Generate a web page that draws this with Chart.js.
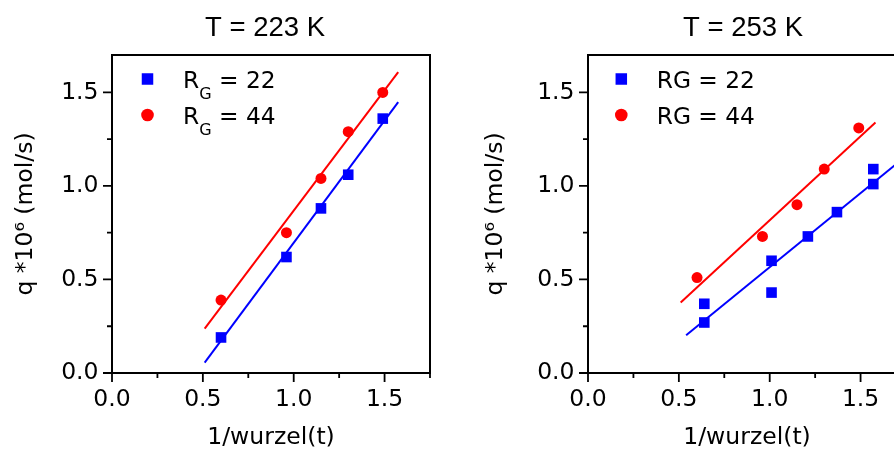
<!DOCTYPE html>
<html>
<head>
<meta charset="utf-8">
<script src="https://cdn.jsdelivr.net/npm/chart.js@4.4.1/dist/chart.umd.min.js"></script>
<style>
  html, body { margin: 0; padding: 0; overflow: hidden; background: #fff; }
  body { width: 894px; height: 452px; position: relative; }
  canvas { position: absolute; top: 0; }
  #c223 { left: 0; }
  #c253 { left: 460px; }
</style>
</head>
<body>
<canvas id="c223" width="530" height="452"></canvas>
<canvas id="c253" width="566" height="452"></canvas>
<script>
// Achsen
var xTickValues = [0, 0.5, 1.0, 1.5];
var xTickLabels = ["0.0", "0.5", "1.0", "1.5"];
var yTickValues = [0, 0.5, 1.0, 1.5];
var yTickLabels = ["0.0", "0.5", "1.0", "1.5"];
var xMinorTicks = [0.25, 0.75, 1.25, 1.75];
var yMinorTicks = [0.25, 0.75, 1.25];

// T = 223 K
var x223 = [0.60, 0.96, 1.15, 1.30, 1.49];
var q223_22 = [0.19, 0.62, 0.88, 1.06, 1.36];
var q223_44 = [0.39, 0.75, 1.04, 1.29, 1.50];
var fitX223 = [0.51, 1.575];
var fit223_22 = [0.055, 1.448];
var fit223_44 = [0.237, 1.608];
var labels223 = ["R_G = 22", "R_G = 44"];

// T = 253 K
var x253_22 = [0.64, 0.64, 1.01, 1.01, 1.21, 1.37, 1.57, 1.57];
var q253_22 = [0.37, 0.27, 0.60, 0.43, 0.73, 0.86, 1.09, 1.01];
var x253_44 = [0.60, 0.96, 1.15, 1.30, 1.49];
var q253_44 = [0.51, 0.73, 0.90, 1.09, 1.31];
var fitX253_22 = [0.54, 1.70];
var fit253_22 = [0.202, 1.120];
var fitX253_44 = [0.51, 1.582];
var fit253_44 = [0.377, 1.339];
var labels253 = ["RG = 22", "RG = 44"];

var BLUE = "#0000ff";
var RED = "#ff0000";
var tickFont = { family: "DejaVu Sans", size: 23.5 };

function pts(xs, ys) {
  return xs.map(function (x, i) { return { x: x, y: ys[i] }; });
}

// Rahmen, Haupt-/Nebenstriche und Legende (mit Index fuer R_G)
var frameLegend = {
  id: "frameLegend",
  afterDraw: function (chart) {
    var ctx = chart.ctx, a = chart.chartArea;
    var xs = chart.scales.x, ys = chart.scales.y;
    ctx.save();
    ctx.strokeStyle = "#000";
    ctx.lineWidth = 2;
    ctx.strokeRect(a.left, a.top, a.right - a.left, a.bottom - a.top);

    ctx.lineWidth = 1.8;
    ctx.beginPath();
    xTickValues.forEach(function (v) {
      var p = xs.getPixelForValue(v);
      ctx.moveTo(p, a.bottom); ctx.lineTo(p, a.bottom + 9);
    });
    xMinorTicks.forEach(function (v) {
      var p = xs.getPixelForValue(v);
      ctx.moveTo(p, a.bottom); ctx.lineTo(p, a.bottom + 5);
    });
    yTickValues.forEach(function (v) {
      var p = ys.getPixelForValue(v);
      ctx.moveTo(a.left, p); ctx.lineTo(a.left - 9, p);
    });
    yMinorTicks.forEach(function (v) {
      var p = ys.getPixelForValue(v);
      ctx.moveTo(a.left, p); ctx.lineTo(a.left - 5, p);
    });
    ctx.stroke();

    var o = chart.options.plugins.frameLegend;
    var row = 0;
    chart.data.datasets.forEach(function (ds) {
      if (ds.showLine) return;
      var cy = a.top + o.top + row * o.gap;
      var mx = a.left + o.markerX;
      ctx.fillStyle = ds.backgroundColor;
      if (ds.pointStyle === "rect") {
        ctx.fillRect(mx - 5.75, cy - 5.75, 11.5, 11.5);
      } else {
        ctx.beginPath();
        ctx.arc(mx, cy, 6.3, 0, Math.PI * 2);
        ctx.fill();
      }
      ctx.fillStyle = "#000";
      ctx.textBaseline = "alphabetic";
      ctx.textAlign = "left";
      var base = cy + 8.5;
      var tx = a.left + o.textX;
      var m = ds.label.match(/^(.*)_(\w)(.*)$/);
      ctx.font = "23.3px 'DejaVu Sans'";
      if (m) {
        ctx.fillText(m[1], tx, base);
        tx += ctx.measureText(m[1]).width;
        ctx.font = "16px 'DejaVu Sans'";
        ctx.fillText(m[2], tx, base + 11);
        tx += ctx.measureText(m[2]).width;
        ctx.font = "23.3px 'DejaVu Sans'";
        ctx.fillText(m[3], tx, base);
      } else {
        ctx.fillText(ds.label, tx, base);
      }
      row++;
    });
    ctx.restore();
  }
};

function makeChart(id, title, datasets, yWidth, rightWidth, yTitlePad, legendPos) {
  return new Chart(document.getElementById(id), {
    type: "scatter",
    data: { datasets: datasets },
    options: {
      responsive: false,
      animation: false,
      events: [],
      layout: { padding: 0 },
      plugins: {
        legend: { display: false },
        tooltip: { enabled: false },
        title: {
          display: true,
          text: title,
          color: "#000",
          font: { family: "Liberation Sans", size: 27.5, weight: "normal" },
          padding: { top: 11.5, bottom: 10.5 }
        },
        frameLegend: legendPos
      },
      scales: {
        x: {
          type: "linear",
          position: "bottom",
          min: 0,
          max: 1.75,
          grid: { display: false, drawTicks: false },
          border: { display: false },
          afterBuildTicks: function (s) {
            s.ticks = xTickValues.map(function (v) { return { value: v }; });
          },
          ticks: {
            color: "#000",
            font: tickFont,
            padding: 13,
            callback: function (v, i) { return xTickLabels[i]; }
          },
          title: {
            display: true,
            text: "1/wurzel(t)",
            color: "#000",
            font: tickFont,
            padding: { top: 0, bottom: 0 }
          },
          afterFit: function (s) { s.height = 79; }
        },
        y: {
          type: "linear",
          position: "left",
          min: 0,
          max: 1.7,
          grid: { display: false, drawTicks: false },
          border: { display: false },
          afterBuildTicks: function (s) {
            s.ticks = yTickValues.map(function (v) { return { value: v }; });
          },
          ticks: {
            color: "#000",
            font: tickFont,
            padding: 13.5,
            callback: function (v, i) { return yTickLabels[i]; }
          },
          title: {
            display: true,
            text: "q *10\u2076 (mol/s)",
            color: "#000",
            font: tickFont,
            padding: { top: yTitlePad, bottom: 0 }
          },
          afterFit: function (s) { s.width = yWidth; }
        },
        pad: {
          type: "linear",
          position: "right",
          display: true,
          grid: { display: false, drawTicks: false },
          border: { display: false },
          ticks: { display: false },
          afterFit: function (s) { s.width = rightWidth; }
        }
      }
    },
    plugins: [frameLegend]
  });
}

function markers(label, xs, ys, color, style, r) {
  return {
    label: label, data: pts(xs, ys), showLine: false,
    pointStyle: style, pointRadius: r, backgroundColor: color,
    borderWidth: 0
  };
}

function fitLine(xs, ys, color) {
  return {
    label: "fit", data: pts(xs, ys), showLine: true,
    borderColor: color, borderWidth: 2, pointRadius: 0
  };
}

makeChart("c223", "T = 223 K", [
  markers(labels223[0], x223, q223_22, BLUE, "rect", 7.5),
  markers(labels223[1], x223, q223_44, RED, "circle", 5.5),
  fitLine(fitX223, fit223_22, BLUE),
  fitLine(fitX223, fit223_44, RED)
], 112, 100, 12, { markerX: 35.5, textX: 71, top: 24, gap: 36 });

makeChart("c253", "T = 253 K", [
  markers(labels253[0], x253_22, q253_22, BLUE, "rect", 7.5),
  markers(labels253[1], x253_44, q253_44, RED, "circle", 5.5),
  fitLine(fitX253_22, fit253_22, BLUE),
  fitLine(fitX253_44, fit253_44, RED)
], 128, 120, 22, { markerX: 33.3, textX: 68.7, top: 24, gap: 36 });
</script>
</body>
</html>
